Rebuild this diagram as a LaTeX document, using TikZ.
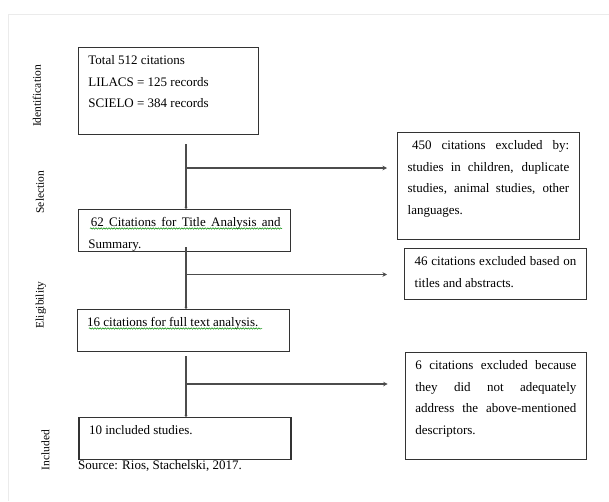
\documentclass[tikz,border=0pt]{standalone}
\usepackage{fontspec}
\setmainfont{Liberation Serif}
\usepackage{tikz}
\usetikzlibrary{arrows.meta, decorations.pathmorphing}
\hyphenpenalty=10000
\exhyphenpenalty=10000
\newcommand{\boxpar}[3]{\parbox[t][#2][t]{#1}{\rule{0pt}{17pt}#3}}

\begin{document}
\begin{tikzpicture}[x=1pt, y=-1pt,
    stagebox/.style={draw=black!80, line width=1.3pt, anchor=north west, inner xsep=10pt, inner ysep=0pt, font=\fontsize{13}{21.5}\selectfont},
    phase/.style={rotate=90, inner sep=0pt, font=\fontsize{11.5}{13}\selectfont},
    arr/.style={-{Stealth[length=4.5pt, width=4.5pt]}, line width=1.1pt, black!70, #1},
    down/.style={-{Stealth[length=2pt, width=3pt]}, line width=1.1pt, black!70},
    squiggle/.style={green!55!black, line width=0.5pt, decorate, decoration={snake, amplitude=0.7pt, segment length=2.6pt}}
]

\fill[white] (0,0) rectangle (609,501);
\useasboundingbox (0,0) rectangle (609,501);
\draw[black!8, line width=1pt] (609,14.5) -- (8,14.5) -- (8,501);

\node[phase] (ident) at (37,96) {Identification};
\node[phase] (select) at (40,192) {Selection};
\node[phase] (elig) at (41,305) {Eligibility};
\node[phase] (incl) at (45.5,450) {Included};

\node[stagebox] (total) at (77.7,47) {\boxpar{160.3pt}{87pt}{Total 512 citations\\LILACS = 125 records\\SCIELO = 384 records}};
\node[stagebox] (titles) at (77.7,209) {\boxpar{192.3pt}{42pt}{\hspace{2.5pt}62 Citations for Title Analysis and\linebreak Summary.}};
\node[stagebox] (fulltext) at (76.5,309) {\boxpar{192.5pt}{42pt}{16 citations for full text analysis.}};
\node[stagebox] (included) at (78.4,417) {\boxpar{192pt}{42pt}{10 included studies.}};

\node[stagebox] (excl1) at (397,132) {\boxpar{161.6pt}{107pt}{\hspace{4.5pt}450 citations excluded by:\linebreak studies in children, duplicate\linebreak studies, animal studies, other\linebreak languages.}};
\node[stagebox] (excl2) at (404,248) {\boxpar{161.6pt}{51pt}{46 citations excluded based on\linebreak titles and abstracts.}};
\node[stagebox] (excl3) at (404.7,352) {\boxpar{161pt}{107pt}{6 citations excluded because\linebreak they did not adequately\linebreak address the above-mentioned\linebreak descriptors.}};

\node[anchor=west, inner sep=0pt, font=\fontsize{13}{15}\selectfont] (source) at (78,466) {Source: Rios, Stachelski, 2017.};

\draw[squiggle] (90,228.5) -- (282,228.5);
\draw[squiggle] (89,328.5) -- (262,328.5);

\coordinate (s1) at (186,144);
\coordinate (j1) at (186,168);
\coordinate (s2) at (186,247);
\coordinate (j2) at (186,274.5);
\coordinate (s3) at (186,356);
\coordinate (j3) at (186,384);

\draw[down] (s1) -- (s1 |- titles.north);
\draw[arr={shorten >=10pt}] (j1) -- (j1 -| excl1.west);
\draw[down] (s2) -- (s2 |- fulltext.north);
\draw[arr={shorten >=17pt}] (j2) -- (j2 -| excl2.west);
\draw[down] (s3) -- (s3 |- included.north);
\draw[arr={shorten >=17pt}] (j3) -- (j3 -| excl3.west);

\end{tikzpicture}
\end{document}
